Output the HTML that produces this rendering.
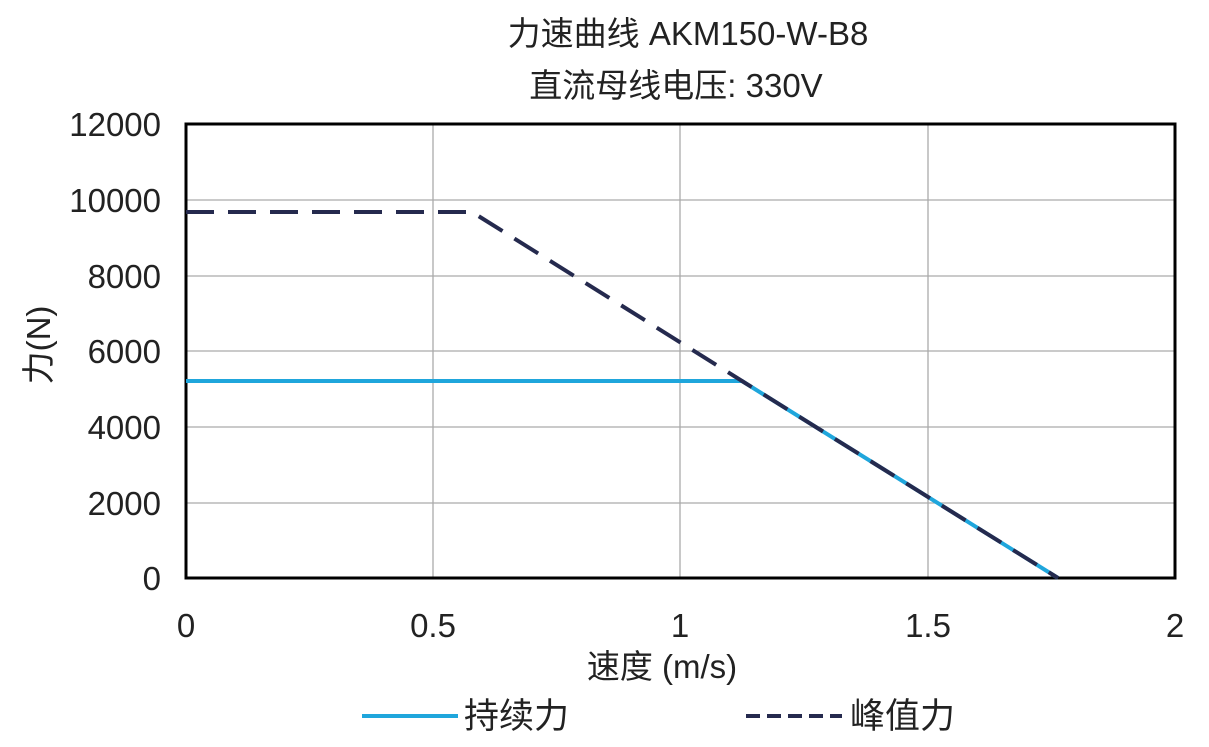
<!DOCTYPE html>
<html><head><meta charset="utf-8"><style>
body{margin:0;background:#fff}
svg text{font-family:"Liberation Sans","Noto Sans CJK SC",sans-serif;fill:#222}
</style></head><body>
<svg width="1209" height="742" viewBox="0 0 1209 742">
<rect width="1209" height="742" fill="#fff"/>
<text x="688" y="45" font-size="33" text-anchor="middle">力速曲线 AKM150-W-B8</text>
<text x="676" y="97" font-size="33" text-anchor="middle">直流母线电压: 330V</text>
<g stroke="#aaa" stroke-width="1.3">
<line x1="433" y1="124" x2="433" y2="578"/><line x1="680" y1="124" x2="680" y2="578"/><line x1="928" y1="124" x2="928" y2="578"/>
<line x1="186" y1="200" x2="1175" y2="200"/><line x1="186" y1="276" x2="1175" y2="276"/><line x1="186" y1="351" x2="1175" y2="351"/>
<line x1="186" y1="427" x2="1175" y2="427"/><line x1="186" y1="503" x2="1175" y2="503"/>
</g>
<rect x="186" y="124" width="989" height="454" fill="none" stroke="#000" stroke-width="3"/>
<g font-size="33" text-anchor="end">
<text x="161" y="136">12000</text><text x="161" y="212">10000</text><text x="161" y="288">8000</text>
<text x="161" y="363">6000</text><text x="161" y="439">4000</text><text x="161" y="515">2000</text><text x="161" y="590">0</text>
</g>
<g font-size="33" text-anchor="middle">
<text x="186" y="637">0</text><text x="433" y="637">0.5</text><text x="680" y="637">1</text><text x="928" y="637">1.5</text><text x="1175" y="637">2</text>
<text x="662" y="678">速度 (m/s)</text>
</g>
<text font-size="33" text-anchor="middle" transform="translate(50,345) rotate(-90)">力(N)</text>
<polyline points="186,381 742,381 1058,578" fill="none" stroke="#1fa6dc" stroke-width="4"/>
<polyline points="186,212 472,212 742,381 1058,578" fill="none" stroke="#252a4e" stroke-width="4" stroke-dasharray="28,14"/>
<line x1="362" y1="716" x2="458" y2="716" stroke="#1fa6dc" stroke-width="4"/>
<text x="464" y="728" font-size="35">持续力</text>
<line x1="746" y1="716" x2="842" y2="716" stroke="#252a4e" stroke-width="4" stroke-dasharray="14,7"/>
<text x="850" y="728" font-size="35">峰值力</text>
</svg>
</body></html>
